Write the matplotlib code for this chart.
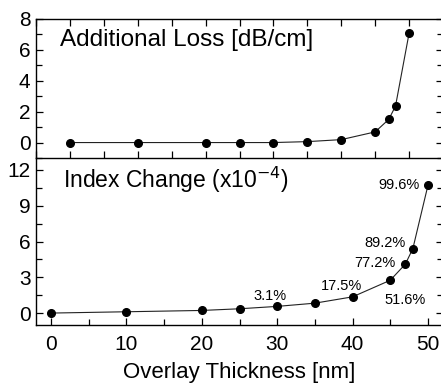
import matplotlib
matplotlib.use("Agg")
import matplotlib.pyplot as plt
from matplotlib.ticker import MultipleLocator

plt.rcParams['font.family'] = ['Liberation Sans', 'DejaVu Sans']

thickness = [0, 10, 20, 25, 30, 35, 40, 45, 47, 48, 50]
loss = [0.0, 0.0, 0.0, 0.0, 0.0, 0.06, 0.19, 0.69, 1.5, 2.36, 7.08]
index_change = [0.0, 0.11, 0.22, 0.36, 0.56, 0.83, 1.36, 2.75, 4.1, 5.4, 10.7]

pct_labels = ["3.1%", "17.5%", "51.6%", "77.2%", "89.2%", "99.6%"]
pct_x = [29.0, 38.5, 47.0, 43.0, 44.3, 46.1]
pct_y = [1.4, 2.25, 1.1, 4.2, 5.9, 10.75]

W, H = 441, 387
fig = plt.figure(figsize=(W / 100, H / 100), dpi=100)

left = 36 / W
width = (443 - 36) / W
ax1 = fig.add_axes([left, 1 - 158 / H, width, (158 - 19) / H])
ax2 = fig.add_axes([left, 1 - 325 / H, width, (325 - 158) / H])
ax2.patch.set_visible(False)

for ax in (ax1, ax2):
    ax.tick_params(which='both', direction='in', top=True, right=True,
                   labelsize=15, width=0.9, pad=4)
    ax.tick_params(which='major', length=5)
    ax.tick_params(which='minor', length=4)
    for s in ax.spines.values():
        s.set_linewidth(1.0)

# Top panel
ax1.plot(thickness, loss, '-', color='#222222', lw=0.8, marker='o',
         markersize=5.5, markerfacecolor='black', markeredgecolor='black')
ax1.set_xlim(-5, 55)
ax1.set_ylim(-1, 8)
ax1.xaxis.set_major_locator(MultipleLocator(10))
ax1.xaxis.set_minor_locator(MultipleLocator(5))
ax1.yaxis.set_major_locator(MultipleLocator(2))
ax1.yaxis.set_minor_locator(MultipleLocator(1))
ax1.tick_params(axis='x', which='both', labelbottom=False, length=5)
ax1.text(0.058, 0.85, "Additional Loss [dB/cm]", transform=ax1.transAxes,
         fontsize=17.5, ha='left', va='center')

# Bottom panel
ax2.plot(thickness, index_change, '-', color='#222222', lw=0.8, marker='o',
         markersize=5.5, markerfacecolor='black', markeredgecolor='black')
ax2.set_xlim(-2, 52)
ax2.set_ylim(-1, 13)
ax2.xaxis.set_major_locator(MultipleLocator(10))
ax2.xaxis.set_minor_locator(MultipleLocator(5))
ax2.yaxis.set_major_locator(MultipleLocator(3))
ax2.yaxis.set_minor_locator(MultipleLocator(1.5))
ax2.tick_params(axis='x', which='both', top=False, pad=7)
ax2.spines['top'].set_visible(False)
ax2.set_xlabel("Overlay Thickness [nm]", fontsize=16, labelpad=6)
ax2.text(0.066, 0.87, r"Index Change (x10$^{-4}$)", transform=ax2.transAxes,
         fontsize=16.5, ha='left', va='center')

for lab, x, y in zip(pct_labels, pct_x, pct_y):
    ax2.text(x, y, lab, fontsize=10.5, ha='center', va='center')

fig.savefig("out.png", dpi=100)
